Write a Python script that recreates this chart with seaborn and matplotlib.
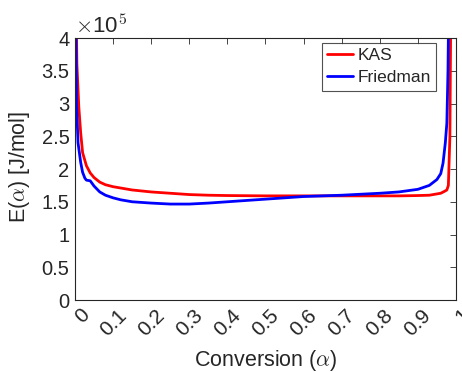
import numpy as np
import pandas as pd
import matplotlib
matplotlib.use("Agg")
import matplotlib.pyplot as plt
import matplotlib.transforms as mtransforms
import seaborn as sns
from matplotlib.ticker import FuncFormatter, FixedLocator

# ---- data (E in units of 1e5 J/mol) ----
alpha_kas = [0.002, 0.005, 0.01, 0.015, 0.02, 0.03, 0.04, 0.05, 0.065, 0.08, 0.1, 0.12,
             0.15, 0.2, 0.25, 0.3, 0.35, 0.4, 0.5, 0.6, 0.7, 0.8, 0.85, 0.9, 0.93, 0.95,
             0.96, 0.97, 0.976, 0.98, 0.984, 0.987]
E_kas = [5.0, 3.6, 2.95, 2.55, 2.25, 2.05, 1.94, 1.87, 1.80, 1.76, 1.73, 1.71,
         1.68, 1.65, 1.63, 1.61, 1.60, 1.595, 1.59, 1.59, 1.59, 1.59, 1.59, 1.595, 1.60, 1.62,
         1.63, 1.66, 1.68, 1.75, 2.5, 5.0]

alpha_fr = [0.001, 0.004, 0.008, 0.015, 0.02, 0.026, 0.03, 0.04, 0.05, 0.065, 0.08, 0.1,
            0.12, 0.15, 0.2, 0.25, 0.3, 0.35, 0.4, 0.5, 0.6, 0.7, 0.8, 0.85, 0.9, 0.93,
            0.95, 0.96, 0.966, 0.972, 0.976, 0.979, 0.982]
E_fr = [5.0, 3.0, 2.4, 2.1, 1.95, 1.86, 1.83, 1.82, 1.74, 1.65, 1.60, 1.56,
        1.53, 1.50, 1.48, 1.465, 1.465, 1.48, 1.50, 1.54, 1.58, 1.60, 1.63, 1.65, 1.69, 1.75,
        1.84, 1.93, 2.09, 2.4, 2.7, 3.5, 5.0]

xticks = [0, 0.1, 0.2, 0.3, 0.4, 0.5, 0.6, 0.7, 0.8, 0.9, 1]
xticklabels = ["0", "0.1", "0.2", "0.3", "0.4", "0.5", "0.6", "0.7", "0.8", "0.9", "1"]
yticks = [0, 0.5, 1, 1.5, 2, 2.5, 3, 3.5, 4]

df = pd.concat([
    pd.DataFrame({"alpha": alpha_kas, "E": np.array(E_kas) * 1e5, "method": "KAS"}),
    pd.DataFrame({"alpha": alpha_fr, "E": np.array(E_fr) * 1e5, "method": "Friedman"}),
])

sns.set_theme(style="white")
plt.rcParams["font.family"] = ["Liberation Sans", "DejaVu Sans"]
plt.rcParams["mathtext.fontset"] = "cm"

fig = plt.figure(figsize=(4.62, 3.72), dpi=100)
ax = fig.add_axes([0.1623, 0.1935, 0.8247, 0.7043])

sns.lineplot(data=df, x="alpha", y="E", hue="method", sort=False,
             palette={"KAS": "#ff0000", "Friedman": "#0000ff"},
             linewidth=2.0, ax=ax, estimator=None)

ax.set_xlim(0, 1)
ax.set_ylim(0, 4e5)
ax.xaxis.set_major_locator(FixedLocator(xticks))
ax.set_xticklabels(xticklabels, rotation=45, fontsize=15)
ax.yaxis.set_major_locator(FixedLocator([v * 1e5 for v in yticks]))
ax.yaxis.set_major_formatter(FuncFormatter(lambda v, p: f"{v/1e5:g}"))
ax.tick_params(axis="y", labelsize=14.5, pad=4)
ax.tick_params(axis="x", pad=4)
ax.tick_params(direction="in", length=4, width=0.6, top=True, right=True,
               color="#262626")
for s in ax.spines.values():
    s.set_visible(True)
    s.set_color("#262626")
    s.set_linewidth(0.8)

# single-character labels sit a bit to the right in the reference
for lab in ax.get_xticklabels():
    if len(lab.get_text()) == 1:
        lab.set_transform(lab.get_transform() +
                          mtransforms.ScaledTranslation(7 / 100, 0, fig.dpi_scale_trans))

ax.set_xlabel(r"Conversion ($\alpha$)", fontsize=15.5)
ax.xaxis.set_label_coords(0.5, -0.185)
ax.set_ylabel(r"E($\alpha$) [J/mol]", fontsize=15.5)
ax.yaxis.set_label_coords(-0.113, 0.51)
ax.text(0.0, 1.0, r"$\times$10$^5$", transform=ax.transAxes, fontsize=16,
        ha="left", va="bottom", color="#262626")

leg = ax.legend(loc="upper right", fontsize=12.5, frameon=True, fancybox=False,
                edgecolor="#262626", borderpad=0.3, handlelength=1.5,
                handletextpad=0.25, labelspacing=0.4, borderaxespad=0,
                bbox_to_anchor=(0.9475, 0.981))
leg.get_frame().set_linewidth(0.8)
leg.set_title(None)

fig.savefig("out.png", dpi=100)
